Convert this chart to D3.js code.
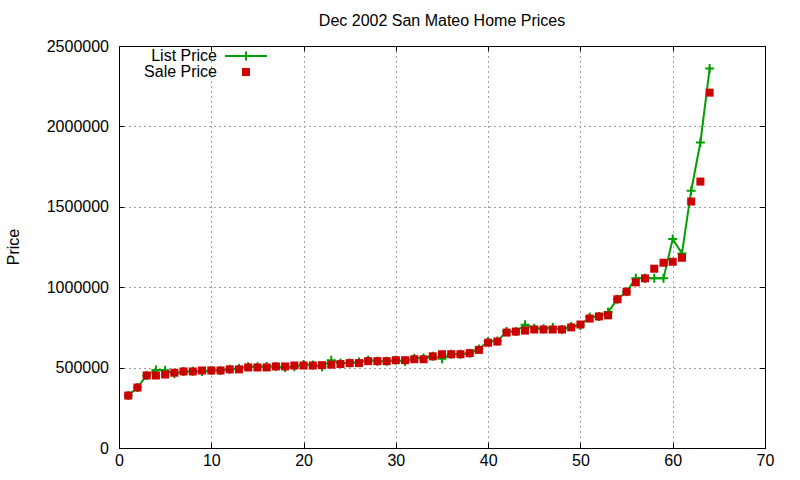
<!DOCTYPE html>
<html>
<head>
<meta charset="utf-8">
<script src="https://cdn.jsdelivr.net/npm/d3@7"></script>
<style>
  html, body { margin: 0; padding: 0; background: #fff; }
  svg text { font-family: "Liberation Sans", Arial, sans-serif; font-size: 16px; fill: #000; }
</style>
</head>
<body>
<svg id="chart" width="800" height="480"></svg>
<script>
const titleText = "Dec 2002 San Mateo Home Prices";
const yLabel = "Price";
const seriesNames = ["List Price", "Sale Price"];
const xTicks = [0, 10, 20, 30, 40, 50, 60, 70];
const yTicks = [0, 500000, 1000000, 1500000, 2000000, 2500000];

const listPrice = [
  326000, 376000, 451000, 485000, 483000, 462000, 476000, 478000, 475000, 482000,
  482000, 489000, 495000, 506000, 505000, 507000, 507000, 500000, 506000, 520000,
  516000, 505000, 545000, 528000, 528000, 535000, 545000, 540000, 540000, 546000,
  538000, 558000, 560000, 570000, 555000, 583000, 583000, 590000, 615000, 662000,
  665000, 725000, 724000, 766000, 745000, 742000, 750000, 737000, 755000, 762000,
  815000, 818000, 845000, 925000, 972000, 1055000, 1055000, 1055000, 1055000, 1300000,
  1210000, 1600000, 1900000, 2360000
];
const salePrice = [
  326000, 376000, 451000, 451000, 457000, 468000, 476000, 476000, 482000, 482000,
  482000, 489000, 489000, 501000, 501000, 501000, 507000, 507000, 513000, 513000,
  513000, 515000, 518000, 522000, 528000, 528000, 540000, 540000, 540000, 546000,
  546000, 552000, 552000, 570000, 583000, 583000, 583000, 590000, 610000, 655000,
  662000, 718000, 724000, 730000, 737000, 737000, 737000, 737000, 750000, 768000,
  805000, 818000, 825000, 925000, 972000, 1030000, 1055000, 1115000, 1152000, 1158000,
  1183000, 1533000, 1657000, 2210000
];

const L = 119, R = 765, T = 46, B = 448;
const green = "#00a000", red = "#cc0000";
const svg = d3.select("#chart");

const x = d3.scaleLinear().domain([0, 70]).range([L, R]);
const y = d3.scaleLinear().domain([0, 2500000]).range([B, T]);

// grid
const grid = svg.append("g").attr("stroke", "#a0a0a0").attr("stroke-width", 1)
  .attr("stroke-dasharray", "2,3").attr("shape-rendering", "crispEdges");
grid.selectAll(".gx").data(xTicks.slice(1, -1)).join("line")
  .attr("x1", d => Math.round(x(d)) + 0.5).attr("x2", d => Math.round(x(d)) + 0.5)
  .attr("y1", T).attr("y2", B);
grid.selectAll(".gy").data(yTicks.slice(1, -1)).join("line")
  .attr("y1", d => Math.round(y(d)) + 0.5).attr("y2", d => Math.round(y(d)) + 0.5)
  .attr("x1", L).attr("x2", R);

// axes
function styleAxis(g, hideText) {
  g.select(".domain").remove();
  g.selectAll(".tick line").attr("stroke", "#000").attr("shape-rendering", "crispEdges");
  g.selectAll(".tick text").attr("font-size", 16).attr("font-family", "Liberation Sans, Arial, sans-serif").attr("fill", "#000");
  if (hideText) g.selectAll(".tick text").remove();
}
svg.append("g").attr("transform", `translate(0,${B})`)
  .call(d3.axisBottom(x).tickValues(xTicks).tickSizeInner(-5).tickSizeOuter(0).tickPadding(7).tickFormat(d3.format("d")))
  .call(g => styleAxis(g, false));
svg.append("g").attr("transform", `translate(0,${T})`)
  .call(d3.axisTop(x).tickValues(xTicks).tickSizeInner(-5).tickSizeOuter(0))
  .call(g => styleAxis(g, true));
svg.append("g").attr("transform", `translate(${L},0)`)
  .call(d3.axisLeft(y).tickValues(yTicks).tickSizeInner(-5).tickSizeOuter(0).tickPadding(10).tickFormat(d3.format("d")))
  .call(g => styleAxis(g, false));
svg.append("g").attr("transform", `translate(${R},0)`)
  .call(d3.axisRight(y).tickValues(yTicks).tickSizeInner(-5).tickSizeOuter(0))
  .call(g => styleAxis(g, true));

// border
svg.append("rect").attr("x", L + 0.5).attr("y", T + 0.5).attr("width", R - L).attr("height", B - T)
  .attr("fill", "none").attr("stroke", "#000").attr("stroke-width", 1).attr("shape-rendering", "crispEdges");

// list price line + plus markers
const listData = listPrice.map((v, i) => ({ i: i + 1, v }));
const saleData = salePrice.map((v, i) => ({ i: i + 1, v }));
const line = d3.line().x(d => x(d.i)).y(d => y(d.v));
svg.append("path").datum(listData).attr("d", line)
  .attr("fill", "none").attr("stroke", green).attr("stroke-width", 2);
const plus = "M-4.5,0H4.5M0,-4.5V4.5";
svg.append("g").selectAll("path").data(listData).join("path")
  .attr("d", plus).attr("transform", d => `translate(${x(d.i)},${y(d.v)})`)
  .attr("stroke", green).attr("stroke-width", 2).attr("fill", "none");

// sale squares
svg.append("g").selectAll("rect").data(saleData).join("rect")
  .attr("x", d => x(d.i) - 4).attr("y", d => y(d.v) - 4)
  .attr("width", 8).attr("height", 8).attr("fill", red);

// title
svg.append("text").attr("x", (L + R) / 2).attr("y", 26).attr("text-anchor", "middle").text(titleText);
// y label
svg.append("text").attr("transform", "translate(19,247) rotate(-90)").attr("text-anchor", "middle").text(yLabel);

// legend
const lg = svg.append("g");
lg.append("text").attr("x", 217).attr("y", 61).attr("text-anchor", "end").text(seriesNames[0]);
lg.append("line").attr("x1", 225).attr("x2", 267).attr("y1", 56).attr("y2", 56).attr("stroke", green).attr("stroke-width", 2);
lg.append("path").attr("d", plus).attr("transform", "translate(246,56)").attr("stroke", green).attr("stroke-width", 2);
lg.append("text").attr("x", 217).attr("y", 77).attr("text-anchor", "end").text(seriesNames[1]);
lg.append("rect").attr("x", 242).attr("y", 68).attr("width", 8).attr("height", 8).attr("fill", red);
</script>
</body>
</html>
